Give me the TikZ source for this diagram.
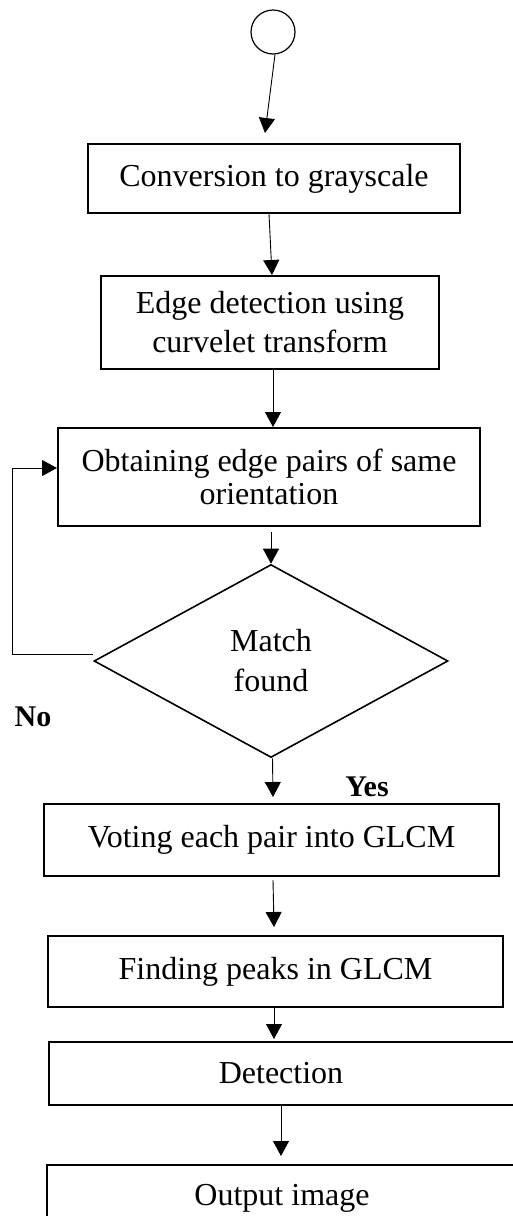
\documentclass[tikz,border=0pt]{standalone}
\usepackage{fontspec}
\setmainfont{Liberation Serif}
\usetikzlibrary{arrows.meta,shapes.geometric}
\begin{document}
\begin{tikzpicture}[x=1pt,y=-1pt,
  stepbox/.style={draw,line width=2pt,rectangle,inner sep=0pt,align=center,
    font=\fontsize{32}{39}\selectfont},
  decbox/.style={draw,line width=1.6pt,diamond,inner sep=0pt,align=center,
    font=\fontsize{32}{40}\selectfont},
  arr/.style={line width=0.9pt,-{Triangle[length=15pt,width=16pt]}},
  lbl/.style={font=\fontsize{30}{34}\selectfont\bfseries,inner sep=0pt}]
\useasboundingbox (0,0) rectangle (513,1216);
\node[draw,circle,line width=1.2pt,minimum size=44pt,inner sep=0pt] (start) at (273,32) {};
\node[stepbox,minimum width=372pt,minimum height=69pt] (b1) at (274,178.5) {Conversion to grayscale};
\node[stepbox,minimum width=338pt,minimum height=93pt] (b2) at (270,322.5) {Edge detection using\\curvelet transform};
\node[stepbox,minimum width=422pt,minimum height=98pt,font=\fontsize{32}{33}\selectfont] (b3) at (269,477) {Obtaining edge pairs of same\\orientation};
\node[decbox,minimum width=354pt,minimum height=193pt] (dia) at (271,661) {Match\\found};
\node[stepbox,minimum width=455pt,minimum height=72pt] (b4) at (271.5,840) {Voting each pair into GLCM};
\node[stepbox,minimum width=455pt,minimum height=71pt] (b5) at (275.5,971.5) {Finding peaks in GLCM};
\node[stepbox,minimum width=476pt,minimum height=63pt] (b6) at (287,1073.5) {Detection\hspace{12pt}};
\node[stepbox,minimum width=484pt,minimum height=66pt] (b7) at (289,1198) {Output image\hspace{14pt}};
\node[lbl] (no) at (33,717) {No};
\node[lbl] (yes) at (367,787) {Yes};
\coordinate (e1) at (265,133);
\coordinate (lc) at (12,654);
\draw[arr] ([xshift=2pt]start.south) -- (e1);
\draw[arr] ([xshift=-5pt]b1.south) -- ([xshift=2pt]b2.north);
\draw[arr] ([xshift=3pt]b2.south) -- ([xshift=4pt]b3.north);
\draw[arr] ([xshift=2pt,yshift=-5pt]b3.south) -- (dia.north);
\draw[arr] ([yshift=7pt]dia.west) -- (lc) |- ([yshift=9pt]b3.west);
\draw[arr] ([xshift=1.5pt]dia.south) -- ([xshift=1.5pt,yshift=6pt]b4.north);
\draw[arr] ([xshift=1.5pt,yshift=-3pt]b4.south) -- ([xshift=-1.5pt,yshift=8pt]b5.north);
\draw[arr] ([xshift=-1.5pt]b5.south) -- ([xshift=-13pt,yshift=2pt]b6.north);
\draw[arr] ([xshift=-6pt]b6.south) -- ([xshift=-8pt,yshift=8pt]b7.north);
\end{tikzpicture}
\end{document}
